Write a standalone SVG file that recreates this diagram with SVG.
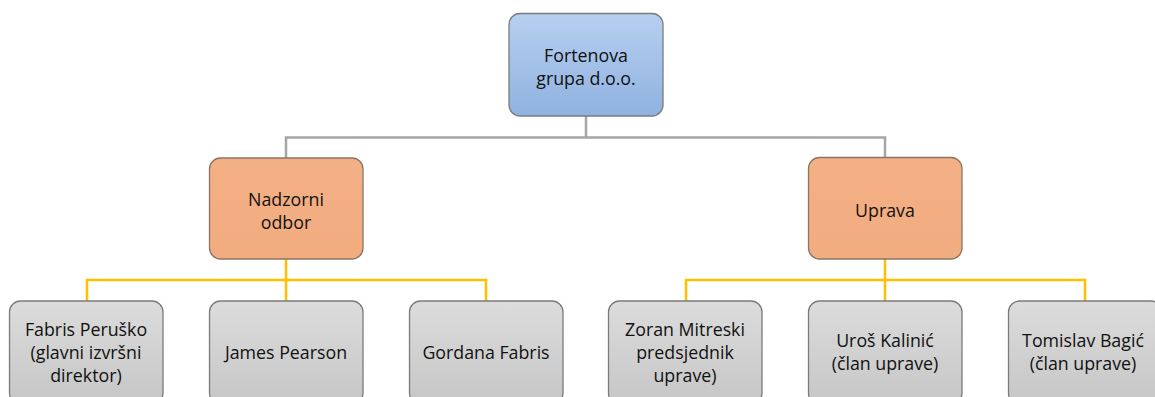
<svg xmlns="http://www.w3.org/2000/svg" width="1155" height="397" viewBox="0 0 1155 397">
<defs>
<linearGradient id="gBlue" x1="0" y1="0" x2="0" y2="1">
<stop offset="0" stop-color="#b7cff0"/>
<stop offset="1" stop-color="#8fb2e0"/>
</linearGradient>
<linearGradient id="gOrange" x1="0" y1="0" x2="0" y2="1">
<stop offset="0" stop-color="#f4b085"/>
<stop offset="1" stop-color="#f1ad80"/>
</linearGradient>
<linearGradient id="gGrey" x1="0" y1="0" x2="0" y2="1">
<stop offset="0" stop-color="#dcdcdc"/>
<stop offset="1" stop-color="#c6c6c6"/>
</linearGradient>
</defs>
<style>
.box{stroke:#7b7b7b;stroke-width:1.3}
.blue{fill:url(#gBlue)}
.orange{fill:url(#gOrange);stroke:#8a7565}
.grey{fill:url(#gGrey)}
.t{font-family:"Open Sans","Liberation Sans",sans-serif;font-size:17.8px;fill:#111;text-anchor:middle}
.cg{fill:none;stroke:#a6a6a6;stroke-width:2.5}
.cy{fill:none;stroke:#ffc000;stroke-width:2.5}
</style>
<rect width="1155" height="397" fill="#ffffff"/>
<g id="connectors">
<path class="cg" d="M586 116 V137.5 H286 V158 M586 137.5 H885 V158"/>
<path class="cy" d="M286 259 V280 M87 301 V280 H486 V301 M286 280 V301"/>
<path class="cy" d="M885 259 V280 M686 301 V280 H1085 V301 M885 280 V301"/>
</g>
<g id="n-fortenova">
<rect class="box blue" x="509" y="13.5" width="154" height="102.5" rx="11"/>
<text class="t" x="586" y="62">Fortenova</text>
<text class="t" x="586" y="85">grupa d.o.o.</text>
</g>
<g id="n-nadzorni">
<rect class="box orange" x="209.5" y="158" width="153.5" height="101" rx="11"/>
<text class="t" x="286" y="206">Nadzorni</text>
<text class="t" x="286" y="229">odbor</text>
</g>
<g id="n-uprava">
<rect class="box orange" x="808.5" y="157.5" width="153.5" height="101.5" rx="11"/>
<text class="t" x="885" y="217">Uprava</text>
</g>
<g id="n-perusko">
<rect class="box grey" x="9.5" y="301" width="153.5" height="103" rx="11"/>
<text class="t" x="86" y="336">Fabris Peruško</text>
<text class="t" x="86" y="359">(glavni izvršni</text>
<text class="t" x="86" y="382">direktor)</text>
</g>
<g id="n-pearson">
<rect class="box grey" x="209.5" y="301" width="153.5" height="103" rx="11"/>
<text class="t" x="286" y="359">James Pearson</text>
</g>
<g id="n-gordana">
<rect class="box grey" x="409.5" y="301" width="153.5" height="103" rx="11"/>
<text class="t" x="486" y="359">Gordana Fabris</text>
</g>
<g id="n-mitreski">
<rect class="box grey" x="608.5" y="301" width="153.5" height="103" rx="11"/>
<text class="t" x="685" y="336">Zoran Mitreski</text>
<text class="t" x="685" y="359">predsjednik</text>
<text class="t" x="685" y="382">uprave)</text>
</g>
<g id="n-kalinic">
<rect class="box grey" x="808.5" y="301" width="153.5" height="103" rx="11"/>
<text class="t" x="885" y="347">Uroš Kalinić</text>
<text class="t" x="885" y="370">(član uprave)</text>
</g>
<g id="n-bagic">
<rect class="box grey" x="1008.5" y="301" width="153.5" height="103" rx="11"/>
<text class="t" x="1083" y="347">Tomislav Bagić</text>
<text class="t" x="1083" y="370">(član uprave)</text>
</g>
</svg>
